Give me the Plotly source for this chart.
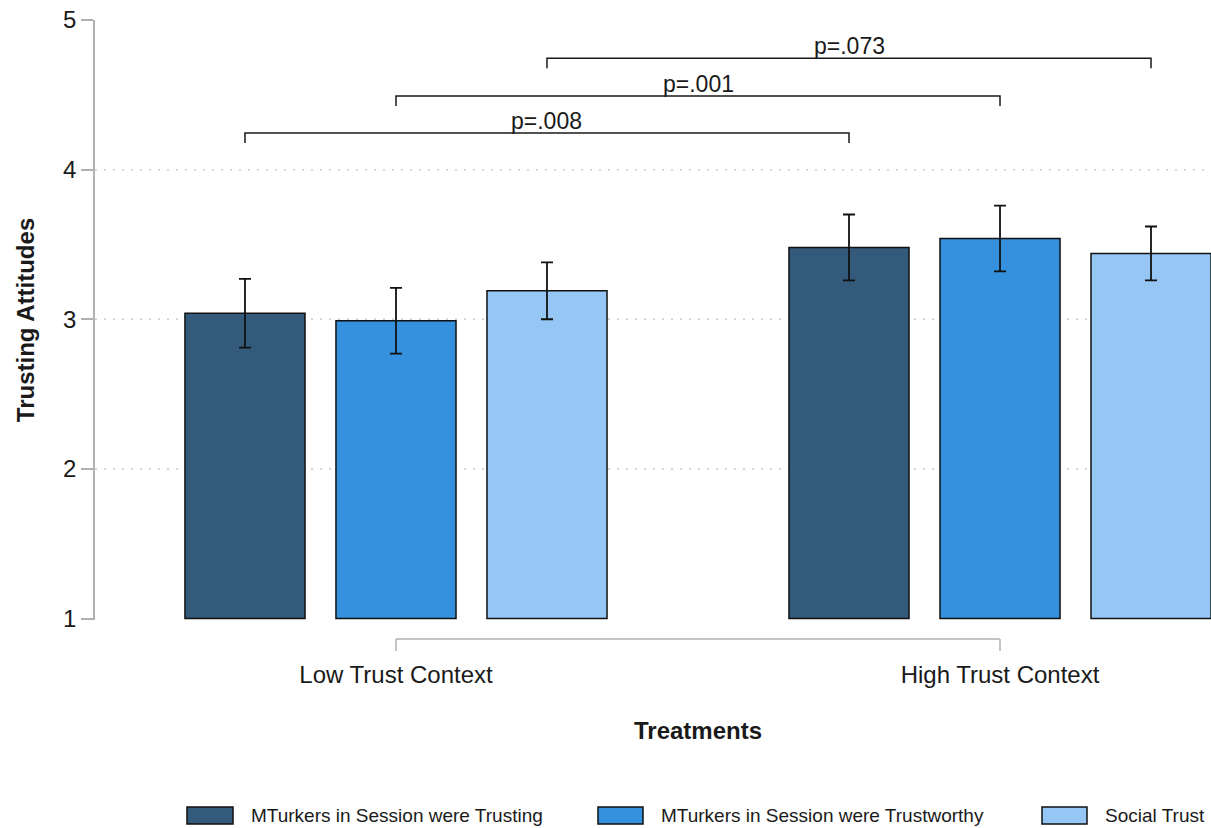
import plotly.graph_objects as go

# ---- data ----
contexts = ["Low Trust Context", "High Trust Context"]
context_pos = [1, 2]
series_names = ["MTurkers in Session were Trusting",
                "MTurkers in Session were Trustworthy",
                "Social Trust"]
trusting_vals = [3.04, 3.48]
trusting_err = [0.23, 0.22]
trustworthy_vals = [2.99, 3.54]
trustworthy_err = [0.22, 0.22]
social_vals = [3.19, 3.44]
social_err = [0.19, 0.18]
y_ticks = [1, 2, 3, 4, 5]
grid_vals = [2, 3, 4]
# comparisons: (series index, p label, bracket height)
comp_series = [0, 1, 2]
comp_labels = ["p=.008", "p=.001", "p=.073"]
comp_heights = [4.245, 4.492, 4.744]

colors = ["#345a7b", "#3590de", "#96c7f4"]
FONT = "Liberation Sans, Arial, sans-serif"
BASE = 1
SLOT = 0.25  # bar slot width in category units (bargap 0.25, 3 series)

vals = [trusting_vals, trustworthy_vals, social_vals]
errs = [trusting_err, trustworthy_err, social_err]

fig = go.Figure()
for name, v, e, c in zip(series_names, vals, errs, colors):
    fig.add_trace(go.Bar(
        name=name, x=context_pos, y=[val - BASE for val in v], base=BASE,
        marker=dict(color=c, line=dict(color="#111111", width=1.5)),
        error_y=dict(type="data", array=e, color="#111111", thickness=1.8, width=6),
        showlegend=False,
    ))

shapes = []
# dotted gridlines
for g in grid_vals:
    shapes.append(dict(type="line", xref="paper", yref="y", x0=0, x1=1, y0=g, y1=g,
                       line=dict(color="#cccccc", width=1.5, dash="2px,7px"), layer="below"))
# x-axis bracket (between category ticks)
yb0, yb1 = -(639 - 620) / 600, -(651 - 620) / 600
xa, xb = context_pos[0], context_pos[-1]
shapes += [
    dict(type="line", xref="x", yref="paper", x0=xa, x1=xb, y0=yb0, y1=yb0,
         line=dict(color="#b0b0b0", width=1.5)),
    dict(type="line", xref="x", yref="paper", x0=xa, x1=xa, y0=yb0, y1=yb1,
         line=dict(color="#b0b0b0", width=1.5)),
    dict(type="line", xref="x", yref="paper", x0=xb, x1=xb, y0=yb0, y1=yb1,
         line=dict(color="#b0b0b0", width=1.5)),
]
annotations = []
# significance brackets
drop = 0.067
for si, lab, h in zip(comp_series, comp_labels, comp_heights):
    off = (si - 1) * SLOT
    x0, x1 = context_pos[0] + off, context_pos[1] + off
    shapes.append(dict(type="path", xref="x", yref="y",
                       path=f"M{x0},{h - drop} L{x0},{h} L{x1},{h} L{x1},{h - drop}",
                       line=dict(color="#1a1a1a", width=1.5)))
    annotations.append(dict(x=(x0 + x1) / 2, y=h, xref="x", yref="y", text=lab,
                            showarrow=False, yanchor="bottom", yshift=-3,
                            font=dict(family=FONT, size=23, color="#1a1a1a")))

# x title
annotations.append(dict(x=(context_pos[0] + context_pos[1]) / 2, y=-(730 - 620) / 600,
                        xref="x", yref="paper", text="<b>Treatments</b>", showarrow=False,
                        yanchor="middle", font=dict(family=FONT, size=24, color="#1a1a1a")))

# custom legend
sw_x = [(187, 233), (598, 643), (1042, 1087)]
txt_x = [249, 659, 1103]
def px2paper(px):
    return (px - 95) / 1116
ly0, ly1 = -(807 - 620) / 600, -(824 - 620) / 600
for (a, b), tx, c, name in zip(sw_x, txt_x, colors, series_names):
    shapes.append(dict(type="rect", xref="paper", yref="paper",
                       x0=px2paper(a), x1=px2paper(b), y0=ly1, y1=ly0,
                       fillcolor=c, line=dict(color="#111111", width=1.5)))
    annotations.append(dict(x=px2paper(tx), y=(ly0 + ly1) / 2, xref="paper", yref="paper",
                            text=name, showarrow=False, xanchor="left", yanchor="middle",
                            font=dict(family=FONT, size=19, color="#1a1a1a")))

fig.update_layout(
    width=1211, height=828,
    margin=dict(l=95, r=0, t=20, b=208),
    paper_bgcolor="white", plot_bgcolor="white",
    barmode="group", bargap=0.25, bargroupgap=0.205,
    font=dict(family=FONT, color="#1a1a1a"),
    shapes=shapes, annotations=annotations,
    showlegend=False,
)
fig.update_xaxes(range=[0.5017, 2.3493], tickvals=context_pos, ticktext=contexts,
                 ticks="", showline=False, showgrid=False, zeroline=False,
                 tickfont=dict(family=FONT, size=24, color="#1a1a1a"),
                 ticklabelstandoff=38)
fig.update_yaxes(range=[0.99, 5], tickvals=y_ticks, ticks="outside", ticklen=12,
                 tickwidth=1.5, tickcolor="#b0b0b0", showline=True, linecolor="#b0b0b0",
                 linewidth=1.5, showgrid=False, zeroline=False,
                 tickfont=dict(family=FONT, size=24, color="#1a1a1a"),
                 title=dict(text="<b>Trusting Attitudes</b>", standoff=22,
                            font=dict(family=FONT, size=24, color="#1a1a1a")))

fig.write_html(
    "out.html",
    config={"displayModeBar": False},
    post_script="document.body.style.margin='0';document.body.style.overflow='hidden';",
)
